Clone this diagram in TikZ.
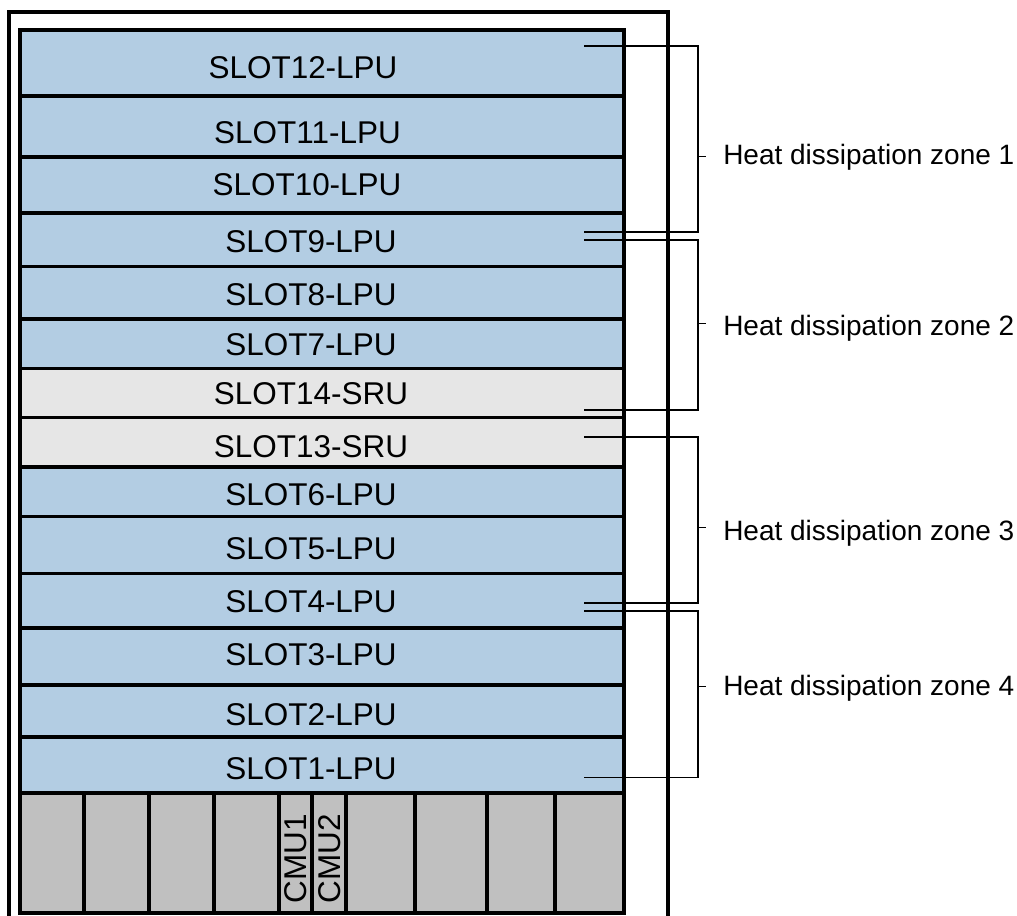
\documentclass[tikz,border=0pt]{standalone}
\usepackage{fontspec}
\setmainfont{Liberation Sans}
\definecolor{lpu}{RGB}{179,205,227}
\definecolor{sru}{RGB}{230,230,230}
\definecolor{cmu}{RGB}{192,192,192}
\tikzset{
  slotbox/.style={draw=black, line width=2.4pt},
  frameline/.style={draw=black, line width=2.6pt},
  slotlabel/.style={font=\fontsize{23.6pt}{28pt}\selectfont, inner sep=0pt},
  zonelabel/.style={font=\fontsize{21pt}{25pt}\selectfont, anchor=base west, inner sep=0pt},
  leader/.style={draw=black, line width=0.8pt},
}
\begin{document}
\begin{tikzpicture}[x=0.75pt, y=-0.75pt]
\useasboundingbox (0,0) rectangle (1017,916);
% outer frame
\draw[frameline] (9,918) -- (9,12) -- (668,12) -- (668,918);
% slots
\draw[slotbox, fill=lpu] (20,30) rectangle (624,96);
\draw[slotbox, fill=lpu] (20,96) rectangle (624,157);
\draw[slotbox, fill=lpu] (20,157) rectangle (624,213);
\draw[slotbox, fill=lpu] (20,213) rectangle (624,266.5);
\draw[slotbox, fill=lpu] (20,266.5) rectangle (624,319);
\draw[slotbox, fill=lpu] (20,319) rectangle (624,368.5);
\draw[slotbox, fill=sru] (20,368.5) rectangle (624,417.5);
\draw[slotbox, fill=sru] (20,417.5) rectangle (624,467);
\draw[slotbox, fill=lpu] (20,467) rectangle (624,516.5);
\draw[slotbox, fill=lpu] (20,516.5) rectangle (624,573.5);
\draw[slotbox, fill=lpu] (20,573.5) rectangle (624,628);
\draw[slotbox, fill=lpu] (20,628) rectangle (624,685);
\draw[slotbox, fill=lpu] (20,685) rectangle (624,737);
\draw[slotbox, fill=lpu] (20,737) rectangle (624,793);
% bottom fan / CMU area
\draw[slotbox, fill=cmu] (20,793) rectangle (624,913);
\foreach \x in {84,149,214,279,312,346,415,487,555}
  \draw[slotbox] (\x,793) -- (\x,913);
% slot labels
\node[slotlabel] (s12) at (303,67.5) {SLOT12-LPU};
\node[slotlabel] (s11) at (307.5,132.5) {SLOT11-LPU};
\node[slotlabel] (s10) at (307,185) {SLOT10-LPU};
\node[slotlabel] (s9) at (311,241.5) {SLOT9-LPU};
\node[slotlabel] (s8) at (311,294.7) {SLOT8-LPU};
\node[slotlabel] (s7) at (311,344.7) {SLOT7-LPU};
\node[slotlabel] (s14) at (311,393.7) {SLOT14-SRU};
\node[slotlabel] (s13) at (311,446.2) {SLOT13-SRU};
\node[slotlabel] (s6) at (311,495) {SLOT6-LPU};
\node[slotlabel] (s5) at (311,548.3) {SLOT5-LPU};
\node[slotlabel] (s4) at (311,601.7) {SLOT4-LPU};
\node[slotlabel] (s3) at (311,654.7) {SLOT3-LPU};
\node[slotlabel] (s2) at (311,715) {SLOT2-LPU};
\node[slotlabel] (s1) at (311,768.3) {SLOT1-LPU};
\node[slotlabel, rotate=90] (cmu1) at (296,859) {CMU1};
\node[slotlabel, rotate=90] (cmu2) at (330,859) {CMU2};
% zone brackets
\foreach \z/\top/\bot/\tick in {1/46/232/156.7, 2/240/410/323.3, 3/437/603/527.3, 4/611/777.5/686.7}{
  \coordinate (la\z) at (584,\top);
  \coordinate (ba\z) at (698,\top);
  \coordinate (bb\z) at (698,\bot);
  \coordinate (lb\z) at (584,\bot);
  \coordinate (tk\z) at (698,\tick);
  \coordinate (te\z) at (706,\tick);
  \draw[leader] (la\z) -- (ba\z) -- (bb\z) -- (lb\z);
  \draw[leader] (tk\z) -- (te\z);
}
\node[zonelabel] (z1) at (723,165) {Heat dissipation zone 1};
\node[zonelabel] (z2) at (723,335) {Heat dissipation zone 2};
\node[zonelabel] (z3) at (723,540) {Heat dissipation zone 3};
\node[zonelabel] (z4) at (723,695) {Heat dissipation zone 4};
\end{tikzpicture}
\end{document}
